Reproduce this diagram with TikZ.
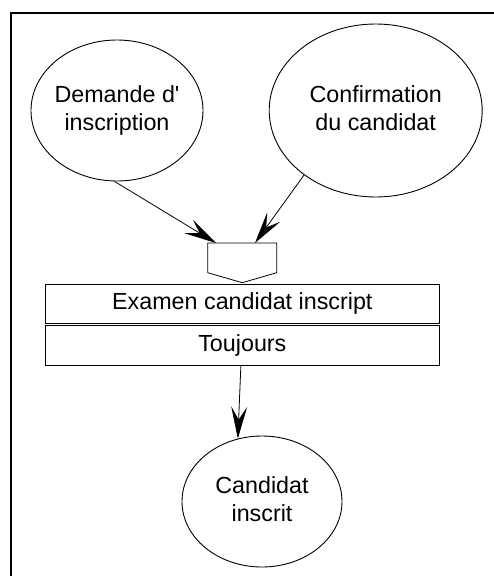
\documentclass[tikz,border=0pt]{standalone}
\usepackage{fontspec}
\setmainfont{Liberation Sans}
\usetikzlibrary{shapes.geometric,arrows.meta}
\newcommand{\ctext}[1]{\makebox[0pt]{\begin{tabular}{@{}c@{}}#1\end{tabular}}}
\begin{document}
\begin{tikzpicture}[x=1pt,y=-1pt,
  every node/.style={font=\fontsize{23.3}{28}\selectfont},
  ell/.style={draw, ellipse, line width=0.9pt, inner sep=0pt},
  lab/.style={draw, rectangle, line width=0.9pt, inner sep=0pt, minimum width=393.3pt},
  conn/.style={line width=0.8pt, -{Stealth[length=32pt,width=16pt,inset=13pt]}},
  pentline/.style={line width=0.8pt}
]
\useasboundingbox (0,0) rectangle (493,576);
\fill[white] (0,0) rectangle (493,576);
\draw[line width=2pt] (11,577) -- (11,13) -- (494,13);

\node[ell, minimum width=172pt, minimum height=141pt] (dem) at (117,110.5) {\ctext{Demande d\textquotesingle\\inscription}};
\node[ell, minimum width=213pt, minimum height=173pt] (conf) at (375.7,110.5) {\ctext{Confirmation\\du candidat}};

\draw[pentline] (207.7,243) -- (276.7,243) -- (276.7,272.7) -- (242.2,282.7) -- (207.7,272.7) -- cycle;
\coordinate (pinL) at (216,243);
\coordinate (pinR) at (255,243);

\node[lab, minimum height=39.3pt] (exa) at (242.35,303.65) {Examen candidat inscript};
\node[lab, minimum height=40pt] (tou) at (242.35,345.7) {Toujours};

\node[ell, minimum width=160pt, minimum height=131pt] (cand) at (262,501.5) {\ctext{Candidat\\inscrit}};

\draw[conn] (dem.268) -- (pinL);
\draw[conn] (conf.222) -- (pinR);
\draw[conn] ([xshift=-1.5pt]tou.south) -- (cand.111);
\end{tikzpicture}
\end{document}
